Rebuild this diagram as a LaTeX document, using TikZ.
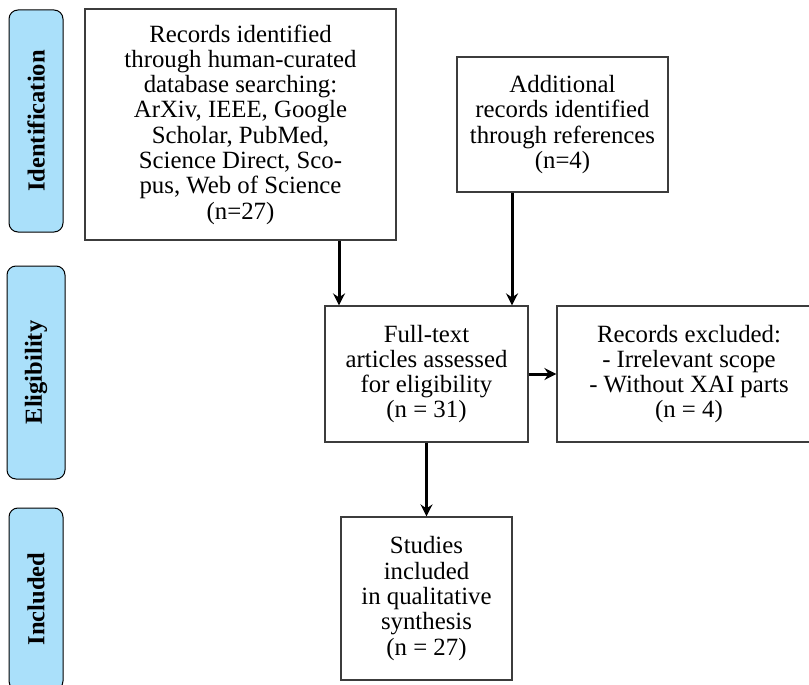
\documentclass[tikz,border=0pt]{standalone}
\usepackage{fontspec}
\setmainfont{Liberation Serif}
\usetikzlibrary{arrows.meta}
\definecolor{sideblue}{RGB}{170,224,250}
\definecolor{boxline}{RGB}{60,60,60}
\tikzset{
  sidebox/.style={draw=black, line width=1pt, fill=sideblue, rounded corners=9pt, inner sep=0pt},
  sidetext/.style={rotate=90, font=\fontsize{24.5}{26}\selectfont\bfseries},
  mainbox/.style={draw=boxline, line width=1.2pt, inner sep=0pt, align=center, font=\fontsize{24.8}{25.3}\selectfont},
  arr/.style={line width=3pt, -{Stealth[length=12pt,width=12pt,inset=4pt]}}
}
\begin{document}
\begin{tikzpicture}[x=1pt,y=-1pt]
\useasboundingbox (0,0) rectangle (809,685);
% side labels
\node[sidebox, minimum width=54pt, minimum height=222pt] (idside) at (36,121) {};
\node[sidetext] (idtext) at (idside.center) {Identification};
\node[sidebox, minimum width=58pt, minimum height=213pt] (elside) at (36,372.5) {};
\node[sidetext] (eltext) at (elside.center) {Eligibility};
\node[sidebox, minimum width=54pt, minimum height=182pt] (inside) at (36,599) {};
\node[sidetext] (intext) at (inside.center) {Included};
% main boxes
\node[mainbox, minimum width=311pt, minimum height=231pt] (rec) at (240.5,124.5)
  {Records identified\\through human-curated\\database searching:\\ArXiv, IEEE, Google\\Scholar, PubMed,\\Science Direct, Sco-\\pus, Web of Science\\(n=27)};
\node[mainbox, minimum width=211pt, minimum height=135pt] (add) at (562.5,124.5)
  {Additional\\records identified\\through references\\(n=4)};
\node[mainbox, minimum width=203pt, minimum height=136pt] (full) at (426.5,374)
  {Full-text\\articles assessed\\for eligibility\\(n = 31)};
\node[mainbox, minimum width=264pt, minimum height=136pt] (excl) at (689,374)
  {Records excluded:\\- Irrelevant scope\\- Without XAI parts\\(n = 4)};
\node[mainbox, minimum width=171pt, minimum height=163pt] (stud) at (426.5,598.5)
  {Studies\\included\\in qualitative\\synthesis\\(n = 27)};
% connectors
\coordinate (a1) at (339,0);
\coordinate (a2) at (512,0);
\draw[arr] (rec.south -| a1) -- (full.north -| a1);
\draw[arr] (add.south -| a2) -- (full.north -| a2);
\draw[arr] (full.east) -- (excl.west);
\draw[arr] (full.south) -- (stud.north);
\end{tikzpicture}
\end{document}
